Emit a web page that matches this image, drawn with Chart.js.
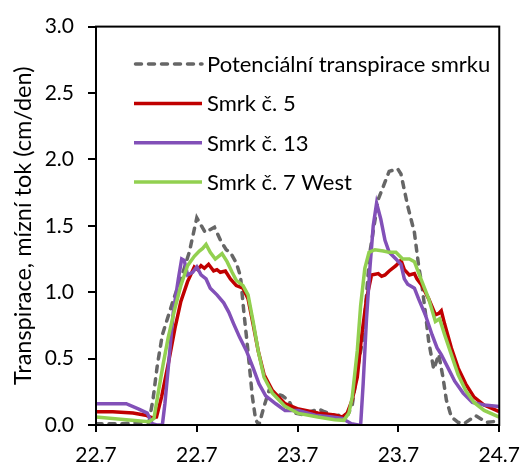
<!DOCTYPE html>
<html>
<head>
<meta charset="utf-8">
<script src="https://cdn.jsdelivr.net/npm/chart.js@4.4.1/dist/chart.umd.min.js"></script>
<style>
  html, body { margin: 0; padding: 0; background: #fff; }
  #chart { display: block; }
</style>
</head>
<body>
<canvas id="chart" width="531" height="465"></canvas>
<script>
// time axis in hours from 22.7. 0:00, one tick every 12 h
var xTickLabels = ['22.7', '22.7', '23.7', '23.7', '24.7'];

var seriesNames = [
  'Potenciální transpirace smrku',
  'Smrk č. 5',
  'Smrk č. 13',
  'Smrk č. 7 West'
];

var potHours = [0, 3, 6.3, 6.8, 7.3, 7.9, 8.6, 9.3, 10.2, 11.1,
  12.0, 13.0, 14.1, 14.9, 15.5, 16.0, 16.7, 17.2, 17.6, 18.1,
  18.6, 19.0, 19.4, 20.0, 20.6, 21.2, 22.2, 23.0, 23.6, 24.5,
  26.5, 27.2, 28.5, 30.0, 30.5, 31.2, 31.8, 32.6, 33.6, 34.9,
  35.9, 36.3, 37.1, 37.9, 38.4, 38.8, 39.2, 39.6, 40.2, 40.8,
  41.3, 41.7, 42.3, 43.1, 43.8, 45.2, 46.5, 48];
var potValues = [0.01, 0.01, 0.02, 0.2, 0.45, 0.68, 0.82, 0.96, 1.12, 1.30,
  1.56, 1.45, 1.49, 1.38, 1.32, 1.30, 1.22, 1.12, 0.85, 0.55,
  0.22, 0.04, 0.0, 0.14, 0.26, 0.24, 0.22, 0.18, 0.09, 0.08,
  0.12, 0.10, 0.07, 0.08, 0.15, 0.45, 0.66, 1.30, 1.70, 1.91,
  1.93, 1.89, 1.65, 1.45, 1.20, 1.05, 0.85, 0.63, 0.42, 0.53,
  0.36, 0.19, 0.06, 0.02, 0.01, 0.07, 0.02, 0.03];

var smrk5Hours = [0, 2, 4.4, 5.9, 6.7, 7.2, 7.8, 8.6, 9.4, 10.1,
  10.9, 11.7, 12.1, 12.5, 12.9, 13.4, 14.0, 14.4, 14.8, 15.4,
  16.0, 16.7, 17.5, 18.1, 18.7, 19.3, 20.0, 21.0, 22.5, 24.1,
  26.4, 28.4, 29.3, 29.9, 30.5, 31.1, 31.6, 32.2, 32.8, 33.6,
  34.0, 34.4, 34.9, 35.7, 36.3, 36.7, 37.3, 37.9, 38.2, 38.8,
  39.6, 40.4, 40.8, 41.1, 41.5, 42.3, 43.1, 44.0, 45.0, 46.2, 48];
var smrk5Values = [0.10, 0.10, 0.09, 0.074, 0.054, 0.06, 0.21, 0.46, 0.73, 0.93,
  1.08, 1.19, 1.17, 1.20, 1.18, 1.21, 1.16, 1.17, 1.15, 1.16,
  1.10, 1.05, 1.03, 0.95, 0.76, 0.56, 0.38, 0.26, 0.16, 0.12,
  0.09, 0.075, 0.06, 0.09, 0.19, 0.36, 0.66, 0.95, 1.13, 1.14,
  1.12, 1.13, 1.16, 1.20, 1.24, 1.17, 1.13, 1.14, 1.10, 1.05,
  0.95, 0.83, 0.84, 0.86, 0.76, 0.58, 0.43, 0.31, 0.21, 0.15, 0.10];

var smrk13Hours = [0, 3.6, 5.1, 6.1, 6.7, 7.2, 7.9, 8.2, 8.6, 9.2,
  9.8, 10.2, 10.5, 10.9, 11.5, 12.0, 12.5, 13.1, 13.6, 14.4,
  15.2, 15.8, 16.4, 17.1, 17.9, 18.7, 19.4, 20.2, 21.4, 22.5,
  24.1, 26.1, 28.1, 29.3, 30.4, 31.2, 31.5, 31.8, 32.2, 32.6,
  33.0, 33.4, 33.9, 34.4, 34.9, 35.7, 36.3, 36.7, 37.1, 37.9,
  38.4, 39.2, 40.0, 40.6, 41.1, 41.9, 42.7, 43.7, 44.8, 46.2, 48];
var smrk13Values = [0.16, 0.16, 0.12, 0.09, 0.01, 0.0, 0.0, 0.16, 0.43, 0.85,
  1.10, 1.25, 1.24, 1.13, 1.15, 1.19, 1.13, 1.10, 1.03, 0.98,
  0.92, 0.85, 0.76, 0.66, 0.56, 0.43, 0.31, 0.22, 0.16, 0.11,
  0.11, 0.074, 0.06, 0.05, 0.01, 0.0, 0.0, 0.31, 0.80, 1.18,
  1.50, 1.67, 1.55, 1.39, 1.30, 1.25, 1.21, 1.10, 1.06, 1.03,
  0.95, 0.83, 0.68, 0.58, 0.53, 0.43, 0.33, 0.24, 0.17, 0.15, 0.14];

var smrk7Hours = [0, 3.6, 6.3, 6.9, 7.4, 8.0, 8.6, 9.4, 10.1, 10.9,
  11.7, 12.3, 12.7, 13.1, 13.6, 14.2, 15.0, 15.6, 16.2, 16.7,
  17.5, 18.1, 18.7, 19.3, 20.0, 21.0, 22.5, 24.1, 26.4, 28.4,
  29.5, 30.1, 30.5, 31.1, 31.5, 32.0, 32.5, 33.2, 34.2, 34.9,
  35.7, 36.5, 37.3, 37.9, 38.2, 38.8, 39.6, 40.4, 40.9, 41.5,
  42.3, 43.1, 44.0, 45.0, 46.2, 48];
var smrk7Values = [0.06, 0.04, 0.025, 0.05, 0.24, 0.46, 0.66, 0.88, 1.05, 1.20,
  1.27, 1.31, 1.33, 1.36, 1.30, 1.25, 1.29, 1.23, 1.15, 1.09,
  1.05, 0.98, 0.78, 0.56, 0.36, 0.24, 0.14, 0.087, 0.06, 0.04,
  0.035, 0.09, 0.21, 0.56, 0.90, 1.18, 1.30, 1.32, 1.31, 1.30,
  1.30, 1.25, 1.25, 1.23, 1.18, 1.08, 0.95, 0.78, 0.80, 0.68,
  0.53, 0.38, 0.26, 0.17, 0.11, 0.06];

var lineColors = ['#666666', '#C00000', '#8250B8', '#92D050'];

function toPoints(hours, values) {
  var pts = [];
  for (var i = 0; i < hours.length; i++) {
    pts.push({ x: hours[i], y: values[i] });
  }
  return pts;
}

var FONT = 'Lato, "Open Sans", sans-serif';

// box around the plot area (Excel style frame)
var frame = {
  id: 'frame',
  afterDatasetsDraw: function (chart) {
    var a = chart.chartArea;
    var ctx = chart.ctx;
    ctx.save();
    ctx.strokeStyle = '#000';
    ctx.lineWidth = 2;
    ctx.strokeRect(a.left, a.top, a.right - a.left, a.bottom - a.top);
    ctx.restore();
  }
};

// legend drawn inside the plot area
var innerLegend = {
  id: 'innerLegend',
  afterDraw: function (chart) {
    var a = chart.chartArea;
    var ctx = chart.ctx;
    ctx.save();
    ctx.font = '22px ' + FONT;
    ctx.textBaseline = 'middle';
    chart.data.datasets.forEach(function (ds, i) {
      var y = a.top + 37.5 + i * 39.3;
      var x0 = a.left + 38;
      ctx.strokeStyle = ds.borderColor;
      ctx.lineWidth = ds.borderWidth;
      ctx.lineCap = ds.borderDash ? 'round' : 'butt';
      ctx.setLineDash(ds.borderDash || []);
      ctx.beginPath();
      ctx.moveTo(x0 + (ds.borderDash ? 1.5 : 0), y);
      ctx.lineTo(x0 + 68, y);
      ctx.stroke();
      ctx.setLineDash([]);
      ctx.fillStyle = '#000';
      ctx.fillText(ds.label, x0 + 73, y + 1);
    });
    ctx.restore();
  }
};

var chartdata = {
  datasets: [
    {
      label: seriesNames[0],
      data: toPoints(potHours, potValues),
      borderColor: lineColors[0],
      borderWidth: 3.5,
      borderDash: [6, 7],
      borderCapStyle: 'round',
      order: 3
    },
    {
      label: seriesNames[1],
      data: toPoints(smrk5Hours, smrk5Values),
      borderColor: lineColors[1],
      borderWidth: 3.5,
      order: 2
    },
    {
      label: seriesNames[2],
      data: toPoints(smrk13Hours, smrk13Values),
      borderColor: lineColors[2],
      borderWidth: 3.5,
      order: 1
    },
    {
      label: seriesNames[3],
      data: toPoints(smrk7Hours, smrk7Values),
      borderColor: lineColors[3],
      borderWidth: 3.5,
      order: 0
    }
  ]
};

var chart = new Chart(document.getElementById('chart'), {
  type: 'line',
  data: chartdata,
  options: {
    responsive: false,
    animation: false,
    devicePixelRatio: 1,
    parsing: false,
    elements: {
      point: { radius: 0 },
      line: { tension: 0, fill: false }
    },
    layout: { padding: { top: 21, right: 22, left: 0, bottom: 0 } },
    plugins: {
      legend: { display: false },
      tooltip: { enabled: false }
    },
    scales: {
      x: {
        type: 'linear',
        min: 0,
        max: 48,
        afterFit: function (scale) { scale.height = 40; },
        afterBuildTicks: function (scale) {
          scale.ticks = xTickLabels.map(function (t, i) { return { value: i * 12 }; });
        },
        ticks: {
          color: '#000',
          font: { family: FONT, size: 21 },
          padding: 11,
          maxRotation: 0,
          callback: function (value, index) { return xTickLabels[index]; }
        },
        grid: {
          display: true,
          drawOnChartArea: false,
          drawTicks: true,
          tickLength: 7,
          color: '#000',
          lineWidth: 2
        },
        border: { display: true, color: '#000', width: 2 }
      },
      y: {
        min: 0,
        max: 3,
        afterFit: function (scale) { scale.width = 96; },
        ticks: {
          stepSize: 0.5,
          color: '#000',
          font: { family: FONT, size: 21 },
          padding: 14,
          callback: function (value) { return value.toFixed(1); }
        },
        grid: {
          display: true,
          drawOnChartArea: false,
          drawTicks: true,
          tickLength: 8,
          color: '#000',
          lineWidth: 2
        },
        border: { display: true, color: '#000', width: 2 },
        title: {
          display: true,
          text: 'Transpirace, mízní tok (cm/den)',
          color: '#000',
          font: { family: FONT, size: 23.5 },
          padding: { top: 9, bottom: 0 }
        }
      }
    }
  },
  plugins: [frame, innerLegend]
});
</script>
</body>
</html>
